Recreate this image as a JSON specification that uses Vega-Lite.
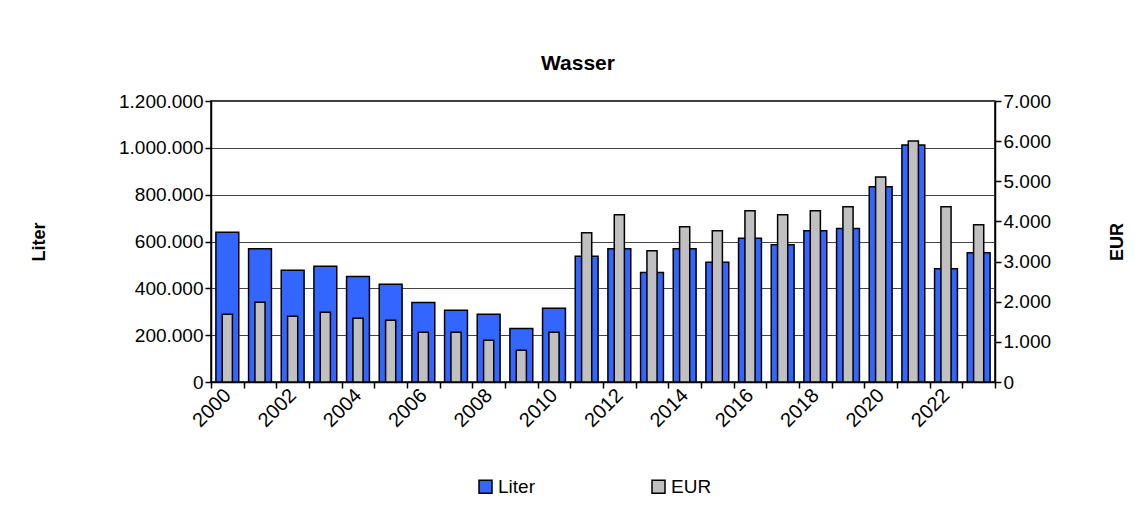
{
  "$schema": "https://vega.github.io/schema/vega-lite/v6.json",
  "width": 784,
  "height": 281,
  "autosize": {"type": "none"},
  "padding": {"left": 211, "top": 101, "right": 149, "bottom": 125},
  "background": "white",
  "config": {
    "locale": {"number": {"decimal": ",", "thousands": ".", "grouping": [3], "currency": ["", " €"]}},
    "font": "Liberation Sans",
    "view": {"stroke": "black", "strokeWidth": 1.5},
    "axis": {
      "labelFont": "Liberation Sans", "labelFontSize": 19, "labelColor": "black",
      "titleFont": "Liberation Sans", "titleFontSize": 18, "titleFontWeight": "bold", "titleColor": "black",
      "domainColor": "black", "domainWidth": 1.5, "tickColor": "black", "tickWidth": 1.5, "tickSize": 6
    }
  },
  "title": {"text": "Wasser", "fontSize": 21, "fontWeight": "bold", "font": "Liberation Sans", "color": "black", "anchor": "middle", "dx": -25, "offset": 18},
  "data": {"values": [
    {"year": 2000, "Liter": 639000, "EUR": 1686},
    {"year": 2001, "Liter": 569000, "EUR": 1985},
    {"year": 2002, "Liter": 477000, "EUR": 1637},
    {"year": 2003, "Liter": 494000, "EUR": 1736},
    {"year": 2004, "Liter": 451000, "EUR": 1587},
    {"year": 2005, "Liter": 417000, "EUR": 1537},
    {"year": 2006, "Liter": 340000, "EUR": 1238},
    {"year": 2007, "Liter": 306000, "EUR": 1238},
    {"year": 2008, "Liter": 289000, "EUR": 1039},
    {"year": 2009, "Liter": 229000, "EUR": 790},
    {"year": 2010, "Liter": 315000, "EUR": 1238},
    {"year": 2011, "Liter": 537000, "EUR": 3719},
    {"year": 2012, "Liter": 569000, "EUR": 4168},
    {"year": 2013, "Liter": 468000, "EUR": 3271},
    {"year": 2014, "Liter": 569000, "EUR": 3869},
    {"year": 2015, "Liter": 511000, "EUR": 3769},
    {"year": 2016, "Liter": 614000, "EUR": 4267},
    {"year": 2017, "Liter": 586000, "EUR": 4168},
    {"year": 2018, "Liter": 646000, "EUR": 4267},
    {"year": 2019, "Liter": 656000, "EUR": 4367},
    {"year": 2020, "Liter": 834000, "EUR": 5107},
    {"year": 2021, "Liter": 1012000, "EUR": 6004},
    {"year": 2022, "Liter": 484000, "EUR": 4367},
    {"year": 2023, "Liter": 552000, "EUR": 3919}
  ]},
  "encoding": {
    "x": {
      "field": "year", "type": "ordinal",
      "scale": {"paddingInner": 0, "paddingOuter": 0},
      "axis": {
        "title": null, "labelAngle": -45, "labelAlign": "right", "labelBaseline": "middle",
        "tickBand": "extent", "labelExpr": "datum.value % 2 == 0 ? datum.label : ''",
        "labelPadding": 4, "labelOverlap": false, "labelFontSize": 20
      }
    }
  },
  "layer": [
    {
      "mark": {"type": "bar", "stroke": "black", "strokeWidth": 1.5, "width": {"band": 0.7}},
      "encoding": {
        "y": {
          "field": "Liter", "type": "quantitative",
          "scale": {"domain": [0, 1200000]},
          "axis": {
            "title": "Liter", "orient": "left",
            "values": [0, 200000, 400000, 600000, 800000, 1000000, 1200000],
            "format": ",d", "grid": true, "gridColor": "#444", "gridWidth": 1, "titlePadding": 70
          }
        },
        "color": {
          "datum": "Liter", "type": "nominal",
          "scale": {"domain": ["Liter", "EUR"], "range": ["#3366FF", "#C0C0C0"]},
          "legend": {
            "title": null, "orient": "none", "legendX": 265, "legendY": 376, "direction": "horizontal",
            "symbolType": "square", "symbolSize": 169, "symbolStrokeColor": "black", "symbolStrokeWidth": 1.5,
            "labelFontSize": 19, "labelColor": "black", "labelFont": "Liberation Sans",
            "columnPadding": 110, "gridAlign": "all", "labelOffset": 3
          }
        }
      }
    },
    {
      "mark": {"type": "bar", "stroke": "black", "strokeWidth": 1.5, "width": {"band": 0.31}},
      "encoding": {
        "y": {
          "field": "EUR", "type": "quantitative",
          "scale": {"domain": [0, 7000]},
          "axis": {
            "title": "EUR", "orient": "right",
            "values": [0, 1000, 2000, 3000, 4000, 5000, 6000, 7000],
            "format": ",d", "grid": false, "titlePadding": 76, "titleAngle": 270
          }
        },
        "color": {"datum": "EUR", "type": "nominal"}
      }
    }
  ],
  "resolve": {"scale": {"y": "independent"}}
}
